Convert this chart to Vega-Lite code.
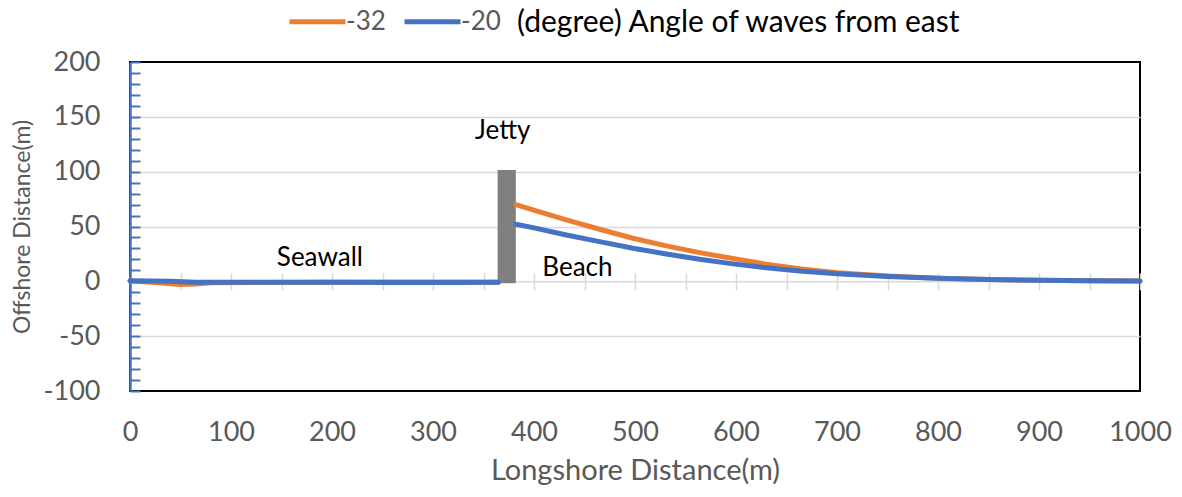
{
  "$schema": "https://vega.github.io/schema/vega-lite/v6.json",
  "width": 1010,
  "height": 329,
  "autosize": {"type": "none"},
  "padding": {"left": 130, "top": 62, "right": 42, "bottom": 106},
  "background": "white",
  "title": {
    "text": "(degree) Angle of waves from east",
    "orient": "bottom", "anchor": "start", "frame": "group", "dx": 387, "offset": -462,
    "baseline": "middle", "fontSize": 30, "fontWeight": "normal", "color": "black", "font": "Lato"
  },
  "config": {"font": "Lato", "view": {"stroke": "black", "strokeWidth": 2}},
  "datasets": {
    "lines": [
      {"series": "-32", "seg": "wall", "x": 0, "y": 0.3},
      {"series": "-32", "seg": "wall", "x": 25, "y": -1},
      {"series": "-32", "seg": "wall", "x": 50, "y": -2.8},
      {"series": "-32", "seg": "wall", "x": 65, "y": -2.5},
      {"series": "-32", "seg": "wall", "x": 80, "y": -1.2},
      {"series": "-32", "seg": "wall", "x": 120, "y": -1},
      {"series": "-32", "seg": "wall", "x": 200, "y": -0.9},
      {"series": "-32", "seg": "wall", "x": 260, "y": -0.6},
      {"series": "-32", "seg": "wall", "x": 320, "y": -0.7},
      {"series": "-32", "seg": "wall", "x": 365, "y": -0.9},
      {"series": "-32", "seg": "beach", "x": 382, "y": 70},
      {"series": "-32", "seg": "beach", "x": 399, "y": 65.1},
      {"series": "-32", "seg": "beach", "x": 432, "y": 56},
      {"series": "-32", "seg": "beach", "x": 465, "y": 47.5},
      {"series": "-32", "seg": "beach", "x": 498, "y": 39.3},
      {"series": "-32", "seg": "beach", "x": 531, "y": 32.3},
      {"series": "-32", "seg": "beach", "x": 564, "y": 26.2},
      {"series": "-32", "seg": "beach", "x": 597, "y": 20.8},
      {"series": "-32", "seg": "beach", "x": 630, "y": 15.6},
      {"series": "-32", "seg": "beach", "x": 663, "y": 11.5},
      {"series": "-32", "seg": "beach", "x": 700, "y": 7.9},
      {"series": "-32", "seg": "beach", "x": 750, "y": 4.8},
      {"series": "-32", "seg": "beach", "x": 800, "y": 2.9},
      {"series": "-32", "seg": "beach", "x": 850, "y": 1.7},
      {"series": "-32", "seg": "beach", "x": 900, "y": 0.9},
      {"series": "-32", "seg": "beach", "x": 950, "y": 0.5},
      {"series": "-32", "seg": "beach", "x": 1000, "y": 0.2},
      {"series": "-20", "seg": "wall", "x": 0, "y": 0.5},
      {"series": "-20", "seg": "wall", "x": 40, "y": 0.1},
      {"series": "-20", "seg": "wall", "x": 65, "y": -0.8},
      {"series": "-20", "seg": "wall", "x": 120, "y": -0.9},
      {"series": "-20", "seg": "wall", "x": 200, "y": -0.9},
      {"series": "-20", "seg": "wall", "x": 260, "y": -1.1},
      {"series": "-20", "seg": "wall", "x": 320, "y": -1},
      {"series": "-20", "seg": "wall", "x": 365, "y": -0.8},
      {"series": "-20", "seg": "beach", "x": 382, "y": 52},
      {"series": "-20", "seg": "beach", "x": 399, "y": 49},
      {"series": "-20", "seg": "beach", "x": 432, "y": 42.3},
      {"series": "-20", "seg": "beach", "x": 465, "y": 36.2},
      {"series": "-20", "seg": "beach", "x": 498, "y": 30.2},
      {"series": "-20", "seg": "beach", "x": 531, "y": 25},
      {"series": "-20", "seg": "beach", "x": 564, "y": 20.1},
      {"series": "-20", "seg": "beach", "x": 597, "y": 15.9},
      {"series": "-20", "seg": "beach", "x": 630, "y": 12.3},
      {"series": "-20", "seg": "beach", "x": 663, "y": 9.5},
      {"series": "-20", "seg": "beach", "x": 700, "y": 6.9},
      {"series": "-20", "seg": "beach", "x": 750, "y": 4.3},
      {"series": "-20", "seg": "beach", "x": 800, "y": 2.7},
      {"series": "-20", "seg": "beach", "x": 850, "y": 1.6},
      {"series": "-20", "seg": "beach", "x": 900, "y": 0.9},
      {"series": "-20", "seg": "beach", "x": 950, "y": 0.5},
      {"series": "-20", "seg": "beach", "x": 1000, "y": 0.2}
    ],
    "jetty": [{"x0": 364, "x1": 382, "y0": -1.7, "y1": 101.5}],
    "labels": [
      {"label": "Jetty", "tx": 369, "ty": 137},
      {"label": "Seawall", "tx": 188, "ty": 21},
      {"label": "Beach", "tx": 443, "ty": 12}
    ]
  },
  "layer": [
    {
      "data": {"name": "jetty"},
      "mark": {"type": "rect", "color": "#7f7f7f"},
      "encoding": {
        "x": {
          "field": "x0", "type": "quantitative",
          "scale": {"domain": [0, 1000], "nice": false},
          "axis": {
            "orient": "bottom", "offset": -109.7, "title": null, "labels": false, "grid": false,
            "domainColor": "#d9d9d9", "domainWidth": 1.5,
            "values": [0, 50, 100, 150, 200, 250, 300, 350, 400, 450, 500, 550, 600, 650, 700, 750, 800, 850, 900, 950, 1000],
            "tickColor": "#d9d9d9", "tickWidth": 1.5, "tickSize": 8,
            "encoding": {"ticks": {"y": {"value": -8.5}, "y2": {"value": 8.5}}}
          }
        },
        "x2": {"field": "x1"},
        "y": {"field": "y0", "type": "quantitative", "scale": {"domain": [-100, 200], "nice": false}, "axis": null},
        "y2": {"field": "y1"}
      }
    },
    {
      "data": {"name": "lines"},
      "mark": {"type": "line", "strokeWidth": 5, "strokeCap": "round", "strokeJoin": "round"},
      "encoding": {
        "x": {
          "field": "x", "type": "quantitative",
          "scale": {"domain": [0, 1000], "nice": false},
          "axis": {
            "orient": "bottom", "title": "Longshore Distance(m)", "format": "d",
            "values": [0, 100, 200, 300, 400, 500, 600, 700, 800, 900, 1000],
            "ticks": false, "domain": false, "grid": false,
            "labelFontSize": 27, "labelColor": "#595959", "labelFlush": false, "labelOverlap": false,
            "labelBaseline": "middle", "labelPadding": 41,
            "titleFontSize": 29, "titleColor": "#595959", "titleFontWeight": "normal",
            "titleY": 79, "titleBaseline": "middle"
          }
        },
        "y": {
          "field": "y", "type": "quantitative",
          "scale": {"domain": [-100, 200], "nice": false},
          "axis": {
            "orient": "left", "title": "Offshore Distance(m)",
            "values": [-100, -90, -80, -70, -60, -50, -40, -30, -20, -10, 0, 10, 20, 30, 40, 50, 60, 70, 80, 90, 100, 110, 120, 130, 140, 150, 160, 170, 180, 190, 200],
            "labelExpr": "datum.value % 50 === 0 ? '' + datum.value : ''",
            "labelFontSize": 27, "labelColor": "#595959", "labelOverlap": false, "labelFlush": false,
            "labelPadding": 30, "labelBaseline": "middle",
            "domainColor": "#4472C4", "domainWidth": 2.5,
            "tickColor": "#4472C4", "tickWidth": 2, "tickSize": 0,
            "encoding": {"ticks": {"x": {"value": 0}, "x2": {"value": 10}}},
            "grid": true, "gridColor": "#d9d9d9", "gridWidth": 1.5,
            "gridOpacity": {"condition": {"test": "datum.value % 50 === 0 && datum.value !== 0 && datum.value !== 200 && datum.value !== -100", "value": 1}, "value": 0},
            "titleFontSize": 23, "titleColor": "#595959", "titleFontWeight": "normal",
            "titleX": -108, "titleY": 164.5, "titleBaseline": "middle", "titleAlign": "center"
          }
        },
        "color": {
          "field": "series", "type": "nominal",
          "scale": {"domain": ["-32", "-20"], "range": ["#ED7D31", "#4472C4"]},
          "legend": {
            "orient": "none", "legendX": 157, "legendY": -71, "direction": "horizontal",
            "title": null,
            "symbolType": "stroke", "symbolSize": 3136, "symbolStrokeWidth": 5,
            "labelFontSize": 26, "labelColor": "#595959", "labelOffset": -2,
            "columnPadding": 8, "padding": 0
          }
        },
        "detail": {"field": "seg"}
      }
    },
    {
      "data": {"name": "labels"},
      "mark": {"type": "text", "fontSize": 26, "color": "black", "align": "center", "baseline": "middle"},
      "encoding": {
        "x": {"field": "tx", "type": "quantitative", "scale": {"domain": [0, 1000], "nice": false}, "axis": null},
        "y": {"field": "ty", "type": "quantitative", "scale": {"domain": [-100, 200], "nice": false}, "axis": null},
        "text": {"field": "label"}
      }
    }
  ],
  "resolve": {"axis": {"x": "independent", "y": "independent"}}
}
